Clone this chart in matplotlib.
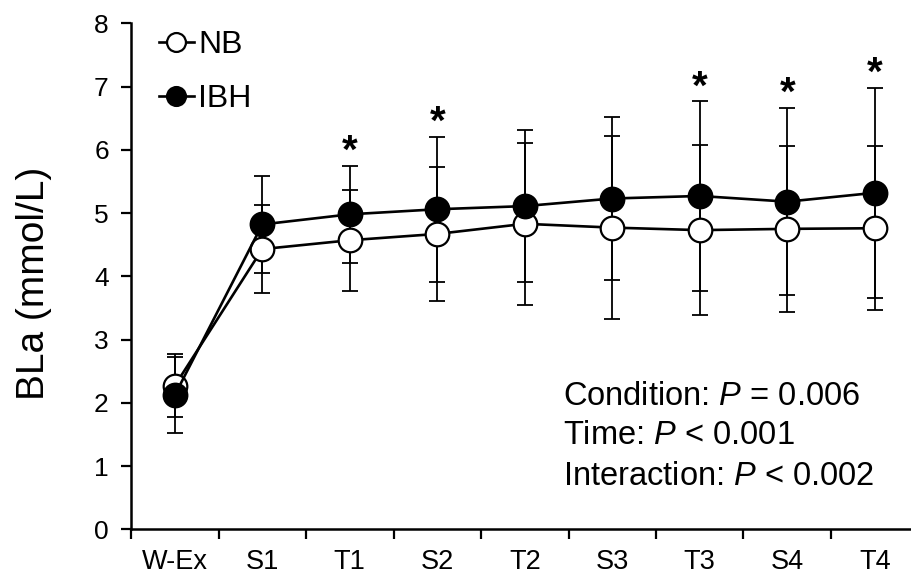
import matplotlib
matplotlib.use("Agg")
import matplotlib.pyplot as plt
import numpy as np

plt.rcParams["font.family"] = ["Liberation Sans", "DejaVu Sans"]
plt.rcParams["mathtext.fontset"] = "custom"
plt.rcParams["mathtext.rm"] = "Liberation Sans"
plt.rcParams["mathtext.it"] = "Liberation Sans:italic"

# time points
categories = ["W-Ex", "S1", "T1", "S2", "T2", "S3", "T3", "S4", "T4"]

# blood lactate, mean and SD (mmol/L)
nb_mean = [2.27, 4.43, 4.57, 4.67, 4.83, 4.77, 4.73, 4.75, 4.76]
nb_sd = [0.50, 0.69, 0.80, 1.06, 1.28, 1.45, 1.34, 1.31, 1.30]
ibh_mean = [2.12, 4.82, 4.98, 5.06, 5.11, 5.23, 5.27, 5.18, 5.32]
ibh_sd = [0.60, 0.76, 0.77, 1.15, 1.20, 1.29, 1.50, 1.48, 1.66]

# time points with a significant condition difference
significant = ["T1", "S2", "T3", "S4", "T4"]

stats_lines = [
    "Condition: $P$ = 0.006",
    "Time: $P$ < 0.001",
    "Interaction: $P$ < 0.002",
]

fig = plt.figure(figsize=(9.12, 5.74), dpi=100)
ax = fig.add_axes([131 / 912, 44.7 / 574, 787.5 / 912, 506 / 574])

x = np.arange(len(categories))

ax.errorbar(x, nb_mean, yerr=nb_sd, fmt="none", ecolor="black",
            elinewidth=1.3, capsize=6, capthick=1.3, zorder=2)
ax.errorbar(x, ibh_mean, yerr=ibh_sd, fmt="none", ecolor="black",
            elinewidth=1.3, capsize=6, capthick=1.3, zorder=2)
ax.plot(x, nb_mean, color="black", linewidth=1.9, marker="o", markersize=17,
        markerfacecolor="white", markeredgecolor="black", markeredgewidth=1.6,
        label="NB", zorder=3)
ax.plot(x, ibh_mean, color="black", linewidth=1.9, marker="o", markersize=17,
        markerfacecolor="black", markeredgecolor="black", markeredgewidth=1.6,
        label="IBH", zorder=4)

for cat in significant:
    i = categories.index(cat)
    ax.annotate("*", (i, ibh_mean[i] + ibh_sd[i]), xytext=(0, 2),
                textcoords="offset points", ha="center", va="baseline",
                fontsize=29, fontweight="bold")

for line, ypos in zip(stats_lines, [1.965, 1.35, 0.70]):
    ax.text(0.548, ypos, line, transform=ax.get_yaxis_transform(),
            fontsize=23.5, ha="left", va="baseline")

ax.set_xlim(-0.5, len(categories) - 0.5)
ax.set_ylim(0, 8)
ax.set_yticks(range(0, 9))
ax.set_xticks(np.arange(-0.5, len(categories), 1))
ax.set_xticklabels([])
ax.set_xticks(x, minor=True)
ax.set_xticklabels(categories, minor=True)
ax.tick_params(axis="x", which="major", direction="out", length=7, width=1.6)
ax.tick_params(axis="x", which="minor", length=0, pad=14, labelsize=19.5)
ax.tick_params(axis="y", direction="out", length=7, width=1.6, pad=9, labelsize=19)

for side in ["top", "right"]:
    ax.spines[side].set_visible(False)
for side in ["left", "bottom"]:
    ax.spines[side].set_linewidth(1.8)

ax.set_ylabel("BLa (mmol/L)", fontsize=28)
ax.yaxis.set_label_coords(-0.100, 0.487)

ax.legend(loc="upper left", bbox_to_anchor=(0.035, 0.987), frameon=False,
          fontsize=23, markerscale=0.8, handlelength=1.1, handletextpad=0.15,
          labelspacing=0.75, borderpad=0, borderaxespad=0)

fig.savefig("out.png", dpi=100)
